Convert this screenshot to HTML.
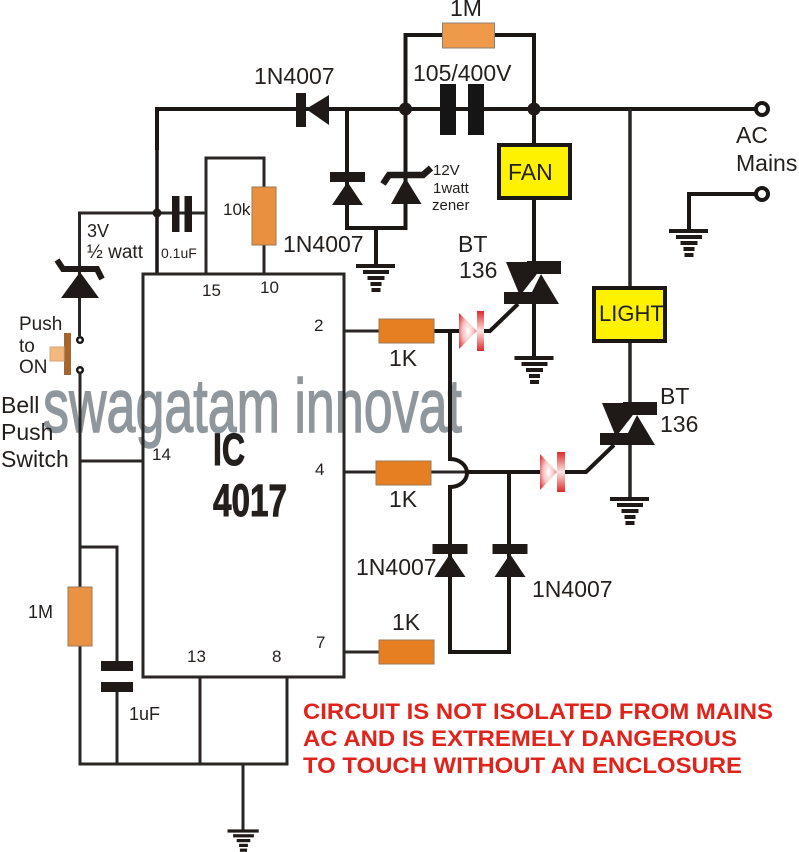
<!DOCTYPE html>
<html><head><meta charset="utf-8"><style>
html,body{margin:0;padding:0;background:#fff}
svg{display:block}
text{font-family:"Liberation Sans",sans-serif;fill:#231f1d}
.w{fill:none;stroke:#1a1715;stroke-width:4;stroke-linejoin:miter}
.t{fill:none;stroke:#2a2624;stroke-width:3}
.k{fill:#1f1a17}
.s23{font-size:23px}.s18{font-size:18px}.s17{font-size:17px}
.r{font-size:22px;font-weight:bold;fill:#e0241c}
</style></head><body>
<svg width="799" height="852" viewBox="0 0 799 852" xmlns="http://www.w3.org/2000/svg">
<defs>
<radialGradient id="gt" cx="0.5" cy="0.5" r="0.62"><stop offset="0" stop-color="#ffffff"/><stop offset="0.5" stop-color="#f6c3c3"/><stop offset="1" stop-color="#e23c3c"/></radialGradient>
<linearGradient id="gb" x1="0" y1="0" x2="0" y2="1"><stop offset="0" stop-color="#dc2a2a"/><stop offset="0.5" stop-color="#fbe4e4"/><stop offset="1" stop-color="#dc2a2a"/></linearGradient>
<g id="gnd" class="k"><rect x="-20" y="-2" width="39" height="4"/><rect x="-13" y="4" width="26" height="4"/><rect x="-8.500" y="10" width="17" height="4"/><rect x="-5.500" y="16" width="11" height="4"/><rect x="-4.500" y="22" width="9" height="4"/></g>
<g id="triac"><path class="k" d="M506 262H546L520 296Z"/><rect class="k" x="527" y="261" width="34" height="13"/><path class="k" d="M541 274L559 304H520Z"/><path fill="#fff" d="M523 292H532L541 274H537Z"/><rect class="k" x="504" y="292" width="33" height="12"/><path class="k" d="M537 292L559 304H530Z"/></g>
<g id="dio"><rect class="k" x="-17.500" y="-5" width="35" height="10"/><path class="k" d="M0 5L15.500 28H-15.500Z"/></g>
</defs>

<text x="43" y="432" font-size="76" textLength="419" lengthAdjust="spacingAndGlyphs" style="fill:#8f979d;stroke:#8f979d;stroke-width:1.4">swagatam innovat</text>

<!-- top wiring -->
<path class="w" d="M157 150V109H762"/>
<path class="w" d="M405.500 109V35H534V143"/>
<path class="w" d="M347 109V228H405.500V109"/>
<path class="w" d="M376 228V265"/>
<path class="w" d="M534 200V356"/>
<path class="t" style="stroke-width:3.500" d="M630 109V286M630 343V498"/>
<path class="w" d="M689 230V194H757"/>
<use href="#gnd" x="376" y="266"/>
<use href="#gnd" x="689" y="231"/>
<use href="#gnd" x="534.500" y="358"/>
<use href="#gnd" x="630" y="499"/>

<circle class="k" cx="405.500" cy="109" r="6.500"/><circle class="k" cx="534" cy="109" r="6.500"/>
<circle cx="762" cy="109" r="6" fill="#fff" stroke="#1a1715" stroke-width="4"/>
<circle cx="762" cy="194" r="6" fill="#fff" stroke="#1a1715" stroke-width="4"/>

<rect x="442.500" y="23" width="52" height="25" fill="#ef9a4b" stroke="#8b8074" stroke-width="1"/>
<rect class="k" x="296" y="93" width="10" height="34"/><path class="k" d="M306 109L329 95V125Z"/>
<rect x="440" y="84" width="16" height="51" fill="#151515"/><rect x="468" y="84" width="16" height="51" fill="#151515"/>
<use href="#dio" x="347.500" y="177"/>
<path fill="none" stroke="#1f1a17" stroke-width="6.500" d="M383 184L389 175H423L431 168"/>
<path class="k" d="M405.500 178L421.500 204H391Z"/>

<rect x="499" y="145" width="71" height="53" fill="#fff200" stroke="#1a1715" stroke-width="4"/>
<rect x="594" y="288" width="71" height="53" fill="#fff200" stroke="#1a1715" stroke-width="4"/>
<use href="#triac"/>
<use href="#triac" x="96" y="141"/>

<!-- left side -->
<path class="w" d="M157 109V275" style="stroke-width:3.500"/>
<path class="t" d="M79.500 336V213H206M206 275V158H264V275"/>
<circle class="k" cx="157" cy="213" r="4.500"/>
<rect class="k" x="172" y="196" width="7.500" height="36"/><rect class="k" x="184.500" y="196" width="7.500" height="36"/>
<rect x="252" y="187" width="24" height="58" fill="#e88f40" stroke="#9c7a55" stroke-width="1"/>
<path fill="none" stroke="#1f1a17" stroke-width="6" d="M57 260L63 269H97L102 279"/>
<path class="k" d="M80 272L99 298H61Z"/>
<circle cx="80" cy="340" r="2.800" fill="#fff" stroke="#1a1715" stroke-width="2.500"/>
<circle cx="80" cy="370" r="2.800" fill="#fff" stroke="#1a1715" stroke-width="2.500"/>
<rect x="64" y="333" width="7" height="42" fill="#a4652f"/>
<rect x="50" y="347" width="14" height="14" fill="#f0b97f" stroke="#d9a574" stroke-width="1"/>
<path class="t" d="M80 373V764H287V677M200 677V764M243 764V830M80 461H143"/>
<path class="t" d="M80 547H117V662M117 692V764"/>
<rect x="68" y="587" width="24" height="59" fill="#ea9243" stroke="#9c7a55" stroke-width="1"/>
<rect class="k" x="101" y="661" width="32" height="10"/><rect class="k" x="101" y="682" width="32" height="10"/>
<use href="#gnd" transform="translate(243.500 831) scale(0.8 0.8)"/>

<!-- IC -->
<rect x="143" y="274" width="201" height="403" fill="none" stroke="#2a2624" stroke-width="3"/>
<path class="t" d="M344 331H379M344 472H376M344 652H379M431 472H467"/>

<!-- right network -->
<path class="w" d="M434 331H459M450 331V459A17 14 0 0 1 450 487V652H509V472M467 472H540M484 331H490L518 304M565 472H586L614 445"/>
<rect x="379" y="319" width="55" height="24" fill="#e67e22" stroke="#9c7a55" stroke-width="1"/>
<rect x="376" y="461" width="55" height="24" fill="#e67e22" stroke="#9c7a55" stroke-width="1"/>
<rect x="379" y="640" width="55" height="24" fill="#e67e22" stroke="#9c7a55" stroke-width="1"/>
<use href="#dio" x="450" y="549"/>
<use href="#dio" x="510" y="549"/>
<path fill="url(#gt)" d="M459 313L477 331L459 349Z"/><rect x="477" y="311" width="7" height="40" fill="url(#gb)"/>
<path fill="url(#gt)" d="M540 454L557 472L540 490Z"/><rect x="557" y="452" width="8" height="40" fill="url(#gb)"/>

<!-- labels -->
<text class="s23" x="450" y="16">1M</text>
<text class="s23" x="254" y="84">1N4007</text>
<text class="s23" x="413" y="81">105/400V</text>
<text class="s23" x="283" y="252">1N4007</text>
<text class="s23" x="458" y="252">BT</text><text class="s23" x="459" y="278">136</text>
<text x="433" y="175" font-size="15">12V</text><text x="433" y="193" font-size="15">1watt</text><text x="432" y="210" font-size="15">zener</text>
<text x="223" y="215" class="s17">10k</text>
<text x="87" y="237" class="s18">3V</text>
<text x="87" y="258" font-size="19">½ watt</text>
<text x="161" y="258" font-size="14">0.1uF</text>
<text x="202" y="296" class="s17">15</text><text x="260" y="293" class="s17">10</text>
<text x="19" y="330" font-size="19">Push</text><text x="19" y="352" font-size="19">to</text><text x="19" y="373" font-size="19">ON</text>
<text class="s23" x="1" y="413">Bell</text><text class="s23" x="1" y="440">Push</text><text class="s23" x="1" y="467">Switch</text>
<text x="152" y="460" class="s17">14</text>
<text x="213" y="465" font-size="45" font-weight="bold" textLength="32" lengthAdjust="spacingAndGlyphs" style="stroke:#231f1d;stroke-width:1">IC</text>
<text x="213" y="516" font-size="45" font-weight="bold" textLength="74" lengthAdjust="spacingAndGlyphs" style="stroke:#231f1d;stroke-width:1">4017</text>
<text x="314" y="331" class="s17">2</text><text x="315" y="475" class="s17">4</text><text x="316" y="648" class="s17">7</text>
<text x="187" y="662" class="s17">13</text><text x="272" y="662" class="s17">8</text>
<text x="129" y="720" class="s18">1uF</text><text x="28" y="618" class="s18">1M</text>
<text class="s23" x="389" y="366">1K</text><text class="s23" x="389" y="507">1K</text><text class="s23" x="392" y="630">1K</text>
<text class="s23" x="356" y="575">1N4007</text><text class="s23" x="532" y="597">1N4007</text>
<text class="s23" x="508" y="180">FAN</text><text x="599" y="321" font-size="22">LIGHT</text>
<text class="s23" x="660" y="404">BT</text><text class="s23" x="660" y="432">136</text>
<text class="s23" x="736" y="143">AC</text><text class="s23" x="736" y="171">Mains</text>
<text class="r" x="303" y="719" textLength="470" lengthAdjust="spacingAndGlyphs">CIRCUIT IS NOT ISOLATED FROM MAINS</text>
<text class="r" x="303" y="746" textLength="434" lengthAdjust="spacingAndGlyphs">AC AND IS EXTREMELY DANGEROUS</text>
<text class="r" x="303" y="773" textLength="439" lengthAdjust="spacingAndGlyphs">TO TOUCH WITHOUT AN ENCLOSURE</text>
</svg>
</body></html>
